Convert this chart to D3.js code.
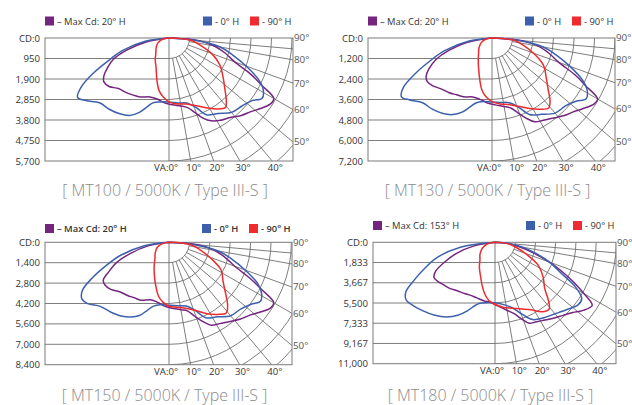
<!DOCTYPE html>
<html>
<head>
<meta charset="utf-8">
<script src="https://cdn.jsdelivr.net/npm/d3@7"></script>
<style>
  body { margin: 0; background: #fff; }
  svg { display: block; }
</style>
</head>
<body>
<svg id="chart" width="632" height="405"></svg>
<script>
// vertical angle from nadir in degrees, negative = left half of the plane
var blueAngles   = [-90,-82,-75,-70,-65,-61,-57,-53,-47,-40,-33,-27,-22,-18,-14,-8,0,8,15,21,26,33,40,47,53,57,61,65,70,75,80,85,90];
var purpleAngles = [-90,-80,-74,-69,-64,-60,-56,-51,-45,-38,-32,-26,-18,-11,-4,3,10,15,19,23,27,32,37,43,48,52,57,60,63,66,70,75,80,85,90];
var redAngles    = [-90,-80,-66,-52,-41,-32,-24,-16,-11,-6,0,7,15,22,28,34,39,43,47,54,62,69,77,84,90];

// candela values, one per angle
var mt100Blue   = [0,1110,2220,2920,3890,4630,5050,4820,4400,4310,4190,4030,3730,3380,3100,2990,2970,3040,3120,3430,3960,4170,4500,4620,4820,5140,5000,4590,3800,3060,2410,1110,0];
var mt100Purple = [0,1110,2040,2760,3180,3480,3640,3570,3310,3210,3120,3040,2870,2880,3010,3100,3200,3340,3640,4030,4310,4500,4630,4910,5100,5330,5610,5610,4820,4170,3240,2690,2130,1390,0];
var mt100Red    = [0,280,560,760,930,1200,1480,2030,2460,2730,2960,3080,3170,3390,3660,3970,4150,3890,3550,3100,2670,2180,1480,1020,0];

var mt130Blue   = [0,1400,2870,3810,4980,5910,6320,6030,5560,5440,5270,5030,4680,4270,3920,3750,3750,3810,3920,4330,4980,5330,5740,5850,6150,6560,6380,5850,4860,3920,3040,1400,0];
var mt130Purple = [0,1460,2630,3510,4100,4450,4570,4450,4210,4070,3920,3830,3630,3660,3810,3920,4070,4240,4620,5090,5500,5680,5880,6210,6440,6730,7110,7140,6150,5330,4160,3450,2750,1760,0];
var mt130Red    = [0,350,700,970,1200,1520,1930,2580,3100,3450,3720,3890,4040,4330,4680,5030,5270,4980,4510,3920,3420,2690,1870,1290,0];

var mt150Blue   = [0,1710,3430,4530,5830,6790,7130,6990,6450,6240,6030,5760,5420,4940,4530,4320,4320,4390,4530,5010,5760,6100,6580,6720,7060,7470,7270,6720,5550,4460,3430,1650,0];
var mt150Purple = [0,1510,2740,3840,4590,5210,5280,5140,4800,4630,4490,4420,4150,4180,4390,4530,4700,4870,5350,5900,6380,6580,6820,7200,7470,7820,8300,8300,7130,6100,4800,3980,3150,1990,0];
var mt150Red    = [0,410,890,1200,1470,1920,2470,3220,3770,4110,4390,4490,4700,5070,5550,5970,6240,5900,5350,4590,4050,3090,2130,1440,0];

var mt180Blue   = [0,3170,5520,6700,8060,9230,9600,9420,9050,8600,8060,7420,6700,6070,5700,5520,5480,5700,6160,7020,7790,8150,8460,8920,9420,9370,8330,6610,5250,3800,2530,1270,0];
var mt180Purple = [0,1990,3620,4800,5980,6380,6290,6070,5880,5570,5430,5300,5300,5390,5480,5790,6250,6700,7330,7970,8100,8330,8650,9050,9510,10050,10500,9320,8060,6790,5250,3440,2170,1090,0];
var mt180Red    = [0,630,1220,1720,2080,2670,3260,4160,4800,5300,5610,5930,6180,6520,6930,7600,7790,7060,6160,5390,4440,3080,1900,1130,0];

// candela axis ticks
var mt100Ticks = [0,950,1900,2850,3800,4750,5700];
var mt130Ticks = [0,1200,2400,3600,4800,6000,7200];
var mt150Ticks = [0,1400,2800,4200,5600,7000,8400];
var mt180Ticks = [0,1833,3667,5500,7333,9167,11000];

var titles = ["[ MT100 / 5000K / Type III-S ]", "[ MT130 / 5000K / Type III-S ]",
              "[ MT150 / 5000K / Type III-S ]", "[ MT180 / 5000K / Type III-S ]"];
var maxCdLabels = ["Max Cd: 20° H", "Max Cd: 20° H", "Max Cd: 20° H", "Max Cd: 153° H"];
var seriesLabels = ["- 0° H", "- 90° H"];

var rayAngles = [10,20,30,40,50,60,70,80,85];
var bottomLabels = [10,20,30,40];
var sideLabels = [90,80,70,60,50];

var colors = { purple: "#74267f", blue: "#3d60ad", red: "#ee2b2e" };

// layout of the four panels (box edges, VA 0 line, legend row)
var panels = [
  { left: 45,  top: 38,    cx: 169, right: 293, bottom: 161,   legendY: 21,    titleY: 196,
    ticks: mt100Ticks, blue: mt100Blue, purple: mt100Purple, red: mt100Red },
  { left: 368, top: 38,    cx: 492, right: 615, bottom: 161,   legendY: 21,    titleY: 196,
    ticks: mt130Ticks, blue: mt130Blue, purple: mt130Purple, red: mt130Red },
  { left: 45,  top: 242.3, cx: 169, right: 292, bottom: 364.7, legendY: 228.5, titleY: 401, bold: true,
    ticks: mt150Ticks, blue: mt150Blue, purple: mt150Purple, red: mt150Red },
  { left: 373, top: 242.3, cx: 495, right: 616, bottom: 363.7, legendY: 225.5, titleY: 401,
    ticks: mt180Ticks, blue: mt180Blue, purple: mt180Purple, red: mt180Red }
];

var svg = d3.select("#chart");
var font = "'Open Sans', 'Noto Sans', sans-serif";
var rad = function(a) { return a * Math.PI / 180; };

function drawPanel(p, i) {
  var g = svg.append("g");
  var h = p.bottom - p.top;
  var maxCd = p.ticks[p.ticks.length - 1];
  var y = d3.scaleLinear().domain([0, maxCd]).range([p.top, p.bottom]);
  var r = d3.scaleLinear().domain([0, maxCd]).range([0, h]);
  var step = r(p.ticks[1]);

  svg.append("clipPath").attr("id", "clip" + i)
    .append("rect")
    .attr("x", p.left).attr("y", p.top)
    .attr("width", p.right - p.left).attr("height", h);

  var grid = g.append("g")
    .attr("clip-path", "url(#clip" + i + ")")
    .attr("fill", "none")
    .attr("stroke", "#6f6f6f")
    .attr("stroke-width", 0.9);

  // rectangular part on the left
  grid.selectAll("line.h").data(p.ticks.slice(1, -1)).join("line")
    .attr("class", "h")
    .attr("x1", p.left).attr("x2", p.cx)
    .attr("y1", function(d) { return y(d); })
    .attr("y2", function(d) { return y(d); });

  // polar part on the right
  grid.selectAll("path.arc").data(d3.range(1, 9)).join("path")
    .attr("class", "arc")
    .attr("d", function(k) {
      var rr = k * step, pa = d3.path();
      pa.moveTo(p.cx, p.top + rr);
      pa.arc(p.cx, p.top, rr, Math.PI / 2, 0, true);
      return pa.toString();
    });

  grid.selectAll("line.ray").data(rayAngles).join("line")
    .attr("class", "ray")
    .attr("x1", function(a) { return p.cx + step * Math.sin(rad(a)); })
    .attr("y1", function(a) { return p.top + step * Math.cos(rad(a)); })
    .attr("x2", function(a) { return p.cx + 400 * Math.sin(rad(a)); })
    .attr("y2", function(a) { return p.top + 400 * Math.cos(rad(a)); });

  grid.append("line")
    .attr("x1", p.cx).attr("x2", p.cx)
    .attr("y1", p.top).attr("y2", p.bottom);

  g.append("rect")
    .attr("x", p.left).attr("y", p.top)
    .attr("width", p.right - p.left).attr("height", h)
    .attr("fill", "none").attr("stroke", "#7a7a7a").attr("stroke-width", 1);

  // candela axis
  var axis = g.append("g")
    .attr("transform", "translate(" + p.left + ",0)")
    .call(d3.axisLeft(y).tickValues(p.ticks).tickSize(0).tickPadding(5)
      .tickFormat(function(d) { return d === 0 ? "CD:0" : d3.format(",")(d); }));
  axis.select(".domain").remove();
  axis.selectAll("text")
    .attr("font-family", font).attr("font-size", "9.6px").attr("fill", "#333");

  // angle labels on the right
  g.selectAll("text.side").data(sideLabels).join("text")
    .attr("class", "side")
    .attr("x", p.right + 1)
    .attr("y", function(a) { return p.top + (p.right - p.cx) * Math.cos(rad(a)) / Math.sin(rad(a)); })
    .attr("dy", "0.35em")
    .attr("font-family", font).attr("font-size", "9.8px").attr("fill", "#555")
    .text(function(a) { return a + "°"; });

  // angle labels along the bottom
  g.selectAll("text.bot").data(bottomLabels).join("text")
    .attr("class", "bot")
    .attr("x", function(a) { return p.cx + h * Math.tan(rad(a)) + 3; })
    .attr("y", p.bottom + 10)
    .attr("text-anchor", "middle")
    .attr("font-family", font).attr("font-size", "9.6px").attr("fill", "#333")
    .text(function(a) { return a + "°"; });

  g.append("text")
    .attr("x", p.cx + 9).attr("y", p.bottom + 10)
    .attr("text-anchor", "end")
    .attr("font-family", font).attr("font-size", "9.6px").attr("fill", "#333")
    .text("VA:0°");

  // distribution curves
  var line = d3.lineRadial()
    .angle(function(d) { return rad(180 - d[0]); })
    .radius(function(d) { return r(d[1]); })
    .curve(d3.curveCatmullRom);

  var curves = [
    { angles: purpleAngles, values: p.purple, color: colors.purple },
    { angles: blueAngles, values: p.blue, color: colors.blue },
    { angles: redAngles, values: p.red, color: colors.red }
  ];
  g.append("g")
    .attr("transform", "translate(" + p.cx + "," + p.top + ")")
    .selectAll("path").data(curves).join("path")
    .attr("fill", "none")
    .attr("stroke", function(c) { return c.color; })
    .attr("stroke-width", 1.5)
    .attr("stroke-linejoin", "round")
    .attr("d", function(c) { return line(d3.zip(c.angles, c.values)); });

  // legend
  var lg = [
    { x: p.left, color: colors.purple, text: "–  " + maxCdLabels[i] },
    { x: p.right - 90, color: colors.blue, text: seriesLabels[0] },
    { x: p.right - 43, color: colors.red, text: seriesLabels[1] }
  ];
  var items = g.selectAll("g.lg").data(lg).join("g").attr("class", "lg");
  items.append("rect")
    .attr("x", function(d) { return d.x; }).attr("y", p.legendY - 4.5)
    .attr("width", 9).attr("height", 9)
    .attr("fill", function(d) { return d.color; });
  items.append("text")
    .attr("x", function(d) { return d.x + 12; }).attr("y", p.legendY + 3.5)
    .attr("font-family", font).attr("font-size", "9.4px")
    .attr("font-weight", p.bold ? 600 : 400).attr("fill", "#333")
    .text(function(d) { return d.text; });

  // title
  g.append("text")
    .attr("x", (p.left + p.right) / 2 - 4).attr("y", p.titleY)
    .attr("text-anchor", "middle")
    .attr("font-family", font).attr("font-size", "16px").attr("font-weight", 300)
    .attr("fill", "#8a8a8a")
    .text(titles[i]);
}

panels.forEach(drawPanel);
</script>
</body>
</html>
